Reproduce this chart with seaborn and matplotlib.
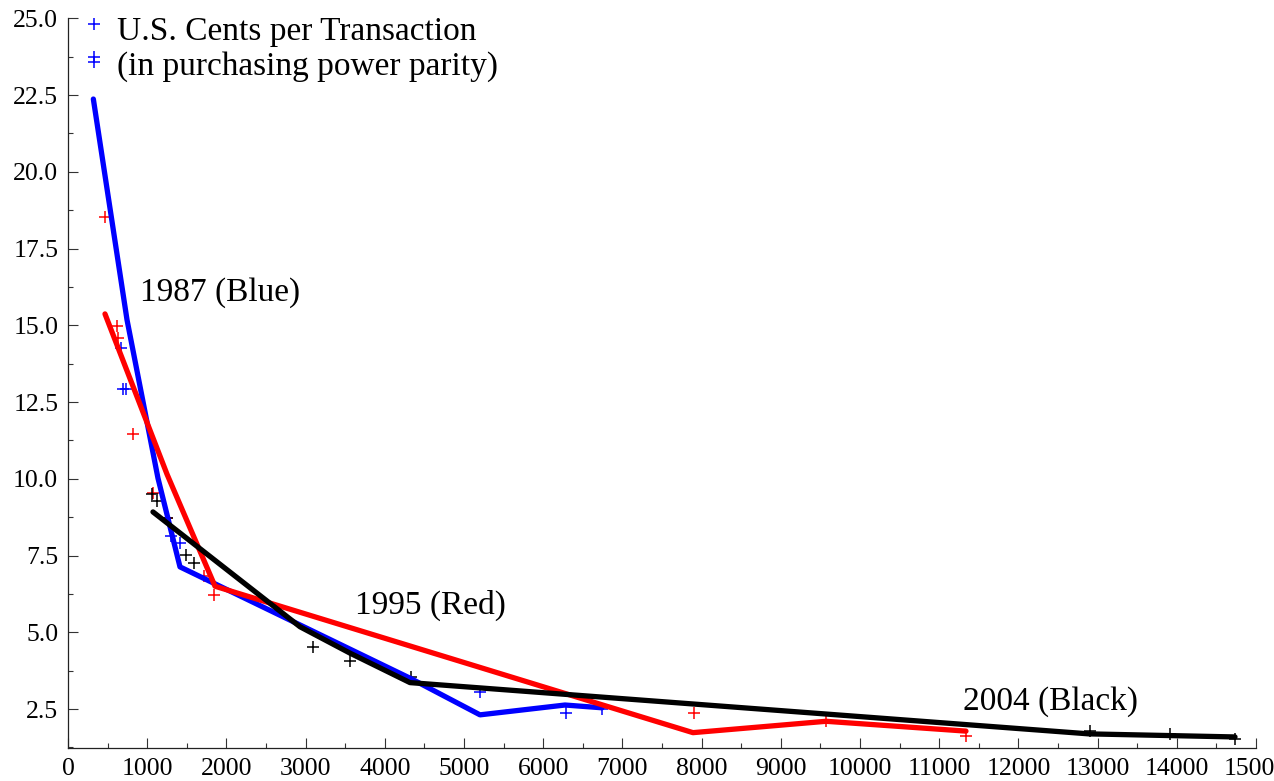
import pandas as pd
import seaborn as sns
import matplotlib.pyplot as plt
from matplotlib.ticker import MultipleLocator, FormatStrFormatter

# raw observations (the "+" marks)
blue_pts_x = [330, 330, 330, 669, 700, 732, 1300, 1414, 5202, 6288, 6742]
blue_pts_y = [24.80, 23.74, 23.58, 14.27, 12.93, 12.93, 8.14, 7.91, 3.06, 2.37, 2.50]

red_pts_x = [467, 619, 630, 821, 1073, 1250, 1717, 1843, 7904, 9571, 11338]
red_pts_y = [18.53, 14.98, 14.59, 11.46, 9.55, 8.72, 6.83, 6.21, 2.38, 2.10, 1.63]

black_pts_x = [1060, 1124, 1250, 1490, 1591, 3093, 3561, 4331, 12904, 13914, 14735]
black_pts_y = [9.51, 9.27, 8.72, 7.52, 7.26, 4.52, 4.07, 3.55, 1.79, 1.69, 1.53]

# trend lines
blue_line_x = [320, 745, 1136, 1414, 4330, 5202, 6275, 6742]
blue_line_y = [22.37, 15.18, 10.02, 7.13, 3.49, 2.31, 2.63, 2.54]

red_line_x = [467, 1250, 1856, 7891, 9571, 11338]
red_line_y = [15.37, 10.15, 6.50, 1.73, 2.10, 1.78]

black_line_x = [1073, 2929, 3561, 4318, 12891, 14735]
black_line_y = [8.92, 5.18, 4.32, 3.36, 1.69, 1.59]

sns.set_theme(style='ticks')
plt.rcParams['font.family'] = ['Liberation Serif', 'DejaVu Serif']
plt.rcParams['text.color'] = 'black'

fig = plt.figure(figsize=(12.74, 7.81), dpi=100)
ax = fig.add_axes([68 / 1274, 1 - 748 / 781, (1256 - 68) / 1274, (748 - 18.3) / 781])

series = [
    ('blue', blue_pts_x, blue_pts_y, blue_line_x, blue_line_y),
    ('red', red_pts_x, red_pts_y, red_line_x, red_line_y),
    ('black', black_pts_x, black_pts_y, black_line_x, black_line_y),
]

# points first, lines on top
for colour, px, py, lx, ly in series:
    sns.scatterplot(x=px, y=py, marker='+', s=70, linewidth=1.1,
                    color=colour, ax=ax, zorder=2)
for colour, px, py, lx, ly in series:
    sns.lineplot(x=lx, y=ly, sort=False, color=colour, lw=3.8, ax=ax,
                 zorder=3)

ax.set_xlim(0, 15000)
ax.set_ylim(1.23, 25.0)
ax.xaxis.set_major_locator(MultipleLocator(1000))
ax.xaxis.set_minor_locator(MultipleLocator(500))
ax.yaxis.set_major_locator(MultipleLocator(2.5))
ax.yaxis.set_minor_locator(MultipleLocator(1.25))
ax.yaxis.set_major_formatter(FormatStrFormatter('%.1f'))

ax.tick_params(which='major', direction='in', length=7, width=0.8,
               color='#333333', labelsize=18.5, pad=7, labelcolor='black')
ax.tick_params(which='minor', direction='in', length=3.5, width=0.8,
               color='#333333')
sns.despine(ax=ax)
for side in ['left', 'bottom']:
    ax.spines[side].set_linewidth(0.9)
    ax.spines[side].set_color('#222222')
ax.set_xlabel('')
ax.set_ylabel('')

ax.text(619, 24.29, 'U.S. Cents per Transaction', fontsize=24,
        va='baseline', ha='left')
ax.text(619, 23.15, '(in purchasing power parity)', fontsize=24,
        va='baseline', ha='left')
ax.text(910, 15.79, '1987 (Blue)', fontsize=24, va='baseline', ha='left')
ax.text(3620, 5.60, '1995 (Red)', fontsize=24, va='baseline', ha='left')
ax.text(11300, 2.47, '2004 (Black)', fontsize=24, va='baseline', ha='left')

fig.savefig('out.png', dpi=100, facecolor='white')
